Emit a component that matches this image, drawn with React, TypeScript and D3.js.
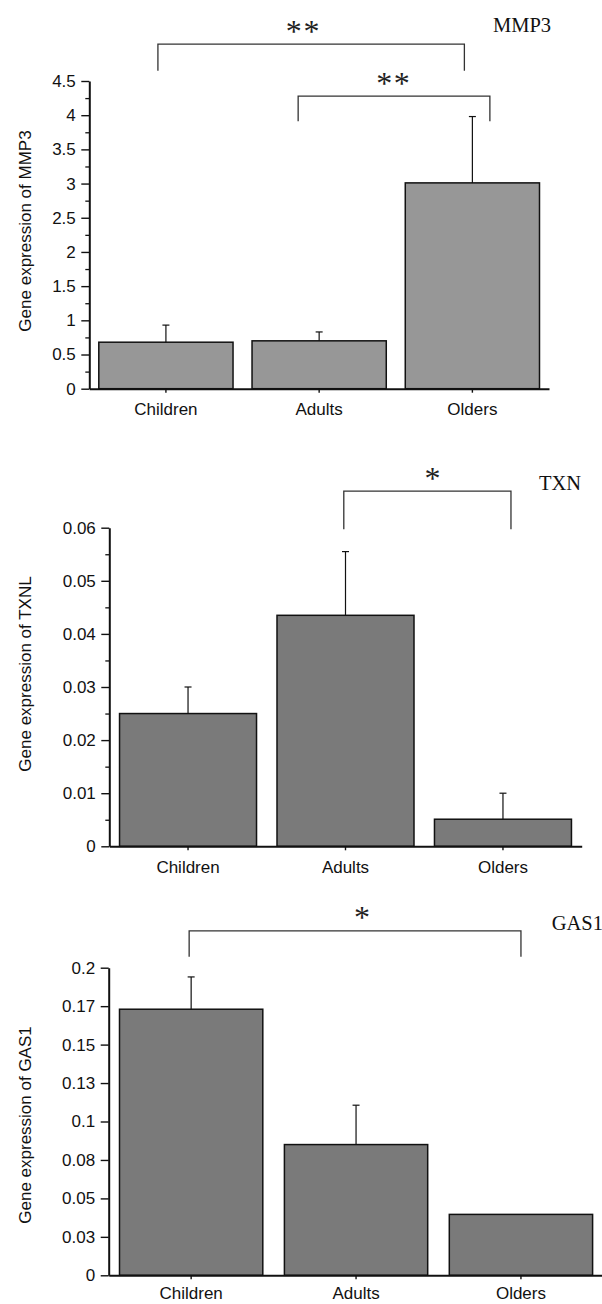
import React, { useEffect, useRef } from "react";
import * as d3 from "d3";

const categories = ["Children", "Adults", "Olders"];

// MMP3 panel
const mmp3Values = [0.68, 0.7, 3.01];
const mmp3Errors = [0.25, 0.13, 0.97];
const mmp3Ticks = [0, 0.5, 1, 1.5, 2, 2.5, 3, 3.5, 4, 4.5];
const mmp3TickLabels = ["0", "0.5", "1", "1.5", "2", "2.5", "3", "3.5", "4", "4.5"];
const mmp3MinorTicks = [0.25, 0.75, 1.25, 1.75, 2.25, 2.75, 3.25, 3.75, 4.25];

// TXN panel
const txnValues = [0.025, 0.0435, 0.0051];
const txnErrors = [0.005, 0.012, 0.0049];
const txnTicks = [0, 0.01, 0.02, 0.03, 0.04, 0.05, 0.06];
const txnTickLabels = ["0", "0.01", "0.02", "0.03", "0.04", "0.05", "0.06"];
const txnMinorTicks = [0.005, 0.015, 0.025, 0.035, 0.045, 0.055];

// GAS1 panel
const gas1Values = [0.173, 0.085, 0.0396];
const gas1Errors = [0.021, 0.0256, 0];
const gas1Ticks = [0, 0.025, 0.05, 0.075, 0.1, 0.125, 0.15, 0.175, 0.2];
const gas1TickLabels = ["0", "0.03", "0.05", "0.08", "0.1", "0.13", "0.15", "0.17", "0.2"];
const gas1MinorTicks: number[] = [];

// significance brackets (level / legTo are in data units of each panel)
const mmp3Brackets = [
  { from: "Children", to: "Olders", mark: "**", level: 5.04, legTo: 4.65 },
  { from: "Adults", to: "Olders", mark: "**", level: 4.28, legTo: 3.91 },
];
const txnBrackets = [{ from: "Adults", to: "Olders", mark: "*", level: 0.0669, legTo: 0.0597 }];
const gas1Brackets = [{ from: "Children", to: "Olders", mark: "*", level: 0.2239, legTo: 0.2072 }];

const SANS = "'Liberation Sans', Arial, Helvetica, sans-serif";
const SERIF = "'Liberation Serif', 'Times New Roman', serif";

const panels = [
  {
    gene: "MMP3", yLabel: "Gene expression of MMP3",
    values: mmp3Values, errors: mmp3Errors, ticks: mmp3Ticks, tickLabels: mmp3TickLabels,
    minor: mmp3MinorTicks, brackets: mmp3Brackets, yMax: 4.5, fill: "#979797",
    box: { x0: 89.3, x1: 549, y0: 81, y1: 388.7 }, pad: 0.124, labelPad: 10.5,
    title: [493, 31.7], labelY: 231,
    shifts: [[-8, -8, -8.5], [-21, 17.5, -1]],
  },
  {
    gene: "TXN", yLabel: "Gene expression of TXNL",
    values: txnValues, errors: txnErrors, ticks: txnTicks, tickLabels: txnTickLabels,
    minor: txnMinorTicks, brackets: txnBrackets, yMax: 0.06, fill: "#7a7a7a",
    box: { x0: 109.3, x1: 581.7, y0: 527.7, y1: 846.3 }, pad: 0.13, labelPad: 10.5,
    title: [539, 490], labelY: 674,
    shifts: [[-1.7, 8, 5]],
  },
  {
    gene: "GAS1", yLabel: "Gene expression of GAS1",
    values: gas1Values, errors: gas1Errors, ticks: gas1Ticks, tickLabels: gas1TickLabels,
    minor: gas1MinorTicks, brackets: gas1Brackets, yMax: 0.2, fill: "#7a7a7a",
    box: { x0: 108.7, x1: 603.4, y0: 967.7, y1: 1275.3 }, pad: 0.131, labelPad: 8,
    title: [551.7, 930], labelY: 1125,
    shifts: [[-2, 0, 7]],
  },
];

export default function App() {
  const svgRef = useRef<SVGSVGElement>(null);

  useEffect(() => {
    const svg = d3.select(svgRef.current);
    svg.selectAll("*").remove();

    panels.forEach((p) => {
      const { x0, x1, y0, y1 } = p.box;
      const g = svg.append("g");

      const x = d3.scaleBand<string>()
        .domain(categories)
        .range([x0, x1])
        .paddingInner(p.pad)
        .paddingOuter(p.pad / 2);
      const y = d3.scaleLinear().domain([0, p.yMax]).range([y1, y0]);

      // bars
      g.selectAll(".bar")
        .data(categories)
        .enter()
        .append("rect")
        .attr("x", (c) => x(c)!)
        .attr("y", (c, i) => y(p.values[i]))
        .attr("width", x.bandwidth())
        .attr("height", (c, i) => y1 - y(p.values[i]))
        .attr("fill", p.fill)
        .attr("stroke", "#111")
        .attr("stroke-width", 1.5);

      // error bars (upper only)
      categories.forEach((c, i) => {
        const e = p.errors[i];
        if (!e) return;
        const cx = x(c)! + x.bandwidth() / 2;
        const top = y(p.values[i] + e);
        g.append("line")
          .attr("x1", cx).attr("x2", cx)
          .attr("y1", y(p.values[i])).attr("y2", top)
          .attr("stroke", "#111").attr("stroke-width", 1.2);
        g.append("line")
          .attr("x1", cx - 3.5).attr("x2", cx + 3.5)
          .attr("y1", top).attr("y2", top)
          .attr("stroke", "#111").attr("stroke-width", 1.2);
      });

      // y axis
      const yAxis = g.append("g")
        .attr("transform", `translate(${x0},0)`)
        .call(
          d3.axisLeft(y)
            .tickValues(p.ticks)
            .tickFormat((d, i) => p.tickLabels[i])
            .tickSize(8)
            .tickSizeOuter(0)
            .tickPadding(5.5)
        );
      if (p.minor.length) {
        g.append("g")
          .attr("transform", `translate(${x0},0)`)
          .call(d3.axisLeft(y).tickValues(p.minor).tickSize(4).tickFormat(() => ""))
          .call((a) => a.select(".domain").remove())
          .selectAll("line")
          .attr("stroke", "#111")
          .attr("stroke-width", 1.3);
      }

      // x axis
      const xAxis = g.append("g")
        .attr("transform", `translate(0,${y1})`)
        .call(d3.axisBottom(x).tickSize(4).tickSizeOuter(0).tickPadding(p.labelPad));

      [yAxis, xAxis].forEach((a) => {
        a.select(".domain").attr("stroke", "#111").attr("stroke-width", 2);
        a.selectAll(".tick line").attr("stroke", "#111").attr("stroke-width", 1.4);
        a.selectAll("text")
          .attr("fill", "#111")
          .style("font-family", SANS)
          .style("font-size", "17px");
      });

      // axis title
      g.append("text")
        .attr("transform", `translate(25,${p.labelY}) rotate(-90)`)
        .attr("text-anchor", "middle")
        .attr("dominant-baseline", "central")
        .attr("fill", "#111")
        .style("font-family", SANS)
        .style("font-size", "17px")
        .text(p.yLabel);

      // gene name
      g.append("text")
        .attr("x", p.title[0])
        .attr("y", p.title[1])
        .attr("fill", "#111")
        .style("font-family", SERIF)
        .style("font-size", "20.5px")
        .text(p.gene);

      // significance brackets
      p.brackets.forEach((b, k) => {
        const [sa, sb, sm] = p.shifts[k];
        const xa = x(b.from)! + x.bandwidth() / 2 + sa;
        const xb = x(b.to)! + x.bandwidth() / 2 + sb;
        g.append("path")
          .attr("d", `M${xa},${y(b.legTo)}V${y(b.level)}H${xb}V${y(b.legTo)}`)
          .attr("fill", "none")
          .attr("stroke", "#333")
          .attr("stroke-width", 1.3);
        g.append("text")
          .attr("x", (xa + xb) / 2 + sm + (b.mark.length > 1 ? 0.85 : 0))
          .attr("y", y(b.level) - 2.5)
          .attr("text-anchor", "middle")
          .attr("fill", "#222")
          .style("font-family", SERIF)
          .style("font-size", "32px")
          .style("letter-spacing", b.mark.length > 1 ? "1.7px" : "0px")
          .text(b.mark);
      });
    });
  }, []);

  return (
    <svg
      ref={svgRef}
      width={602}
      height={1304}
      style={{ position: "absolute", left: 0, top: 0, background: "#fff" }}
    />
  );
}
